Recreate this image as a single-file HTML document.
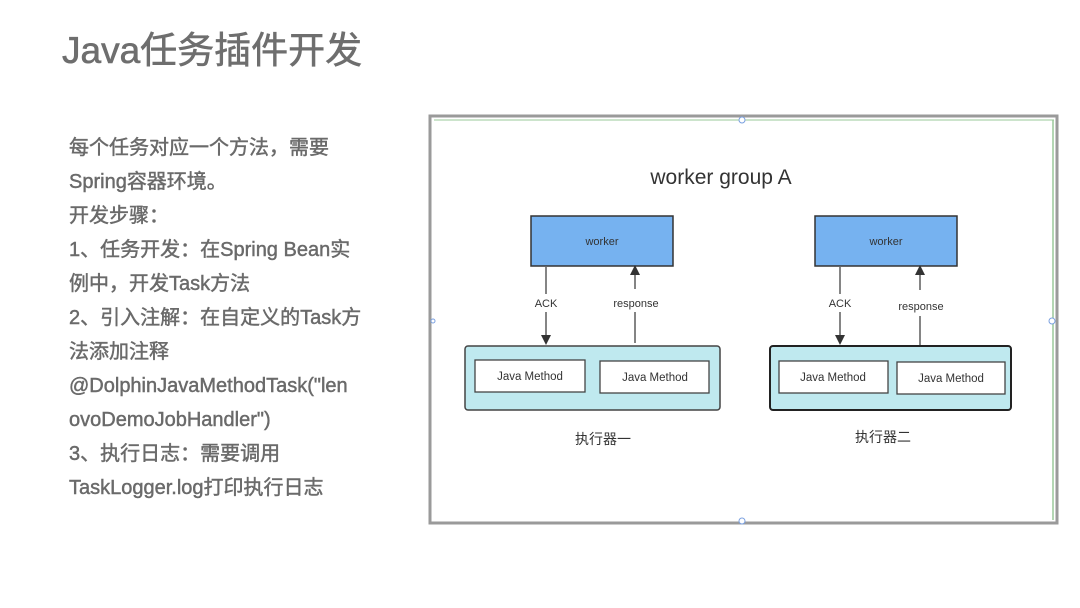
<!DOCTYPE html>
<html><head><meta charset="utf-8"><style>
html,body{margin:0;padding:0;background:#fff;}
body{width:1080px;height:608px;position:relative;overflow:hidden;font-family:"Liberation Sans","Noto Sans CJK SC",sans-serif;}
.title{position:absolute;left:62px;top:27px;font-size:37px;color:#6e6e6e;line-height:48px;white-space:nowrap;-webkit-text-stroke:0.6px #6e6e6e;}
.body{position:absolute;left:69px;top:131px;font-size:20px;color:#6a6a6a;line-height:34px;white-space:nowrap;-webkit-text-stroke:0.45px #6a6a6a;}
svg{position:absolute;left:0;top:0;}
</style></head><body>
<div class="title">Java任务插件开发</div>
<div class="body">每个任务对应一个方法，需要<br>Spring容器环境。<br>开发步骤：<br>1、任务开发：在Spring Bean实<br>例中，开发Task方法<br>2、引入注解：在自定义的Task方<br>法添加注释<br>@DolphinJavaMethodTask("len<br>ovoDemoJobHandler")<br>3、执行日志：需要调用<br>TaskLogger.log打印执行日志</div>
<svg width="1080" height="608" viewBox="0 0 1080 608" font-family="Liberation Sans, Noto Sans CJK SC, sans-serif">
<defs><marker id="a" markerWidth="10" markerHeight="10" refX="5" refY="5" orient="auto" markerUnits="userSpaceOnUse"><path d="M0,0 L10,5 L0,10 z" fill="#333"/></marker></defs>
<rect x="430" y="116" width="627" height="407" fill="#fff" stroke="#9a9a9a" stroke-width="3"/>
<line x1="434" y1="120" x2="1054" y2="120" stroke="#9ac89a" stroke-width="1"/>
<line x1="1053" y1="120" x2="1053" y2="520" stroke="#9ac89a" stroke-width="1.5"/>
<text x="721" y="184" font-size="21" fill="#333" text-anchor="middle">worker group A</text>
<rect x="531" y="216" width="142" height="50" fill="#76b2f0" stroke="#333" stroke-width="1.5"/>
<rect x="815" y="216" width="142" height="50" fill="#76b2f0" stroke="#333" stroke-width="1.5"/>
<text x="602" y="245" font-size="11" fill="#333" text-anchor="middle">worker</text>
<text x="886" y="245" font-size="11" fill="#333" text-anchor="middle">worker</text>
<line x1="546" y1="267" x2="546" y2="294" stroke="#333" stroke-width="1.2"/>
<line x1="546" y1="312" x2="546" y2="340" stroke="#333" stroke-width="1.2" marker-end="url(#a)"/>
<line x1="635" y1="289" x2="635" y2="270" stroke="#333" stroke-width="1.2" marker-end="url(#a)"/>
<line x1="635" y1="312" x2="635" y2="343" stroke="#333" stroke-width="1.2"/>
<line x1="840" y1="267" x2="840" y2="294" stroke="#333" stroke-width="1.2"/>
<line x1="840" y1="312" x2="840" y2="340" stroke="#333" stroke-width="1.2" marker-end="url(#a)"/>
<line x1="920" y1="290" x2="920" y2="270" stroke="#333" stroke-width="1.2" marker-end="url(#a)"/>
<line x1="920" y1="316" x2="920" y2="345" stroke="#333" stroke-width="1.2"/>
<text x="546" y="307" font-size="11" fill="#333" text-anchor="middle">ACK</text>
<text x="636" y="307" font-size="11" fill="#333" text-anchor="middle">response</text>
<text x="840" y="307" font-size="11" fill="#333" text-anchor="middle">ACK</text>
<text x="921" y="310" font-size="11" fill="#333" text-anchor="middle">response</text>
<rect x="465" y="346" width="255" height="64" rx="3" fill="#bfe9ef" stroke="#444" stroke-width="1.5"/>
<rect x="770" y="346" width="241" height="64" rx="3" fill="#bfe9ef" stroke="#222" stroke-width="2"/>
<rect x="475" y="360" width="110" height="32" fill="#fff" stroke="#444" stroke-width="1.3"/>
<rect x="600" y="361" width="109" height="32" fill="#fff" stroke="#444" stroke-width="1.3"/>
<rect x="779" y="361" width="109" height="32" fill="#fff" stroke="#444" stroke-width="1.3"/>
<rect x="897" y="362" width="108" height="32" fill="#fff" stroke="#444" stroke-width="1.3"/>
<text x="530" y="380" font-size="11.5" fill="#333" text-anchor="middle">Java Method</text>
<text x="655" y="381" font-size="11.5" fill="#333" text-anchor="middle">Java Method</text>
<text x="833" y="381" font-size="11.5" fill="#333" text-anchor="middle">Java Method</text>
<text x="951" y="382" font-size="11.5" fill="#333" text-anchor="middle">Java Method</text>
<text x="603" y="444" font-size="14" fill="#333" text-anchor="middle">执行器一</text>
<text x="883" y="442" font-size="14" fill="#333" text-anchor="middle">执行器二</text>
<circle cx="742" cy="120" r="3" fill="#fff" stroke="#7aa0e0"/>
<circle cx="742" cy="521" r="3" fill="#fff" stroke="#7aa0e0"/>
<circle cx="1052" cy="321" r="3" fill="#fff" stroke="#7aa0e0"/>
<circle cx="433" cy="321" r="2" fill="#fff" stroke="#7aa0e0"/>
</svg>
</body></html>
